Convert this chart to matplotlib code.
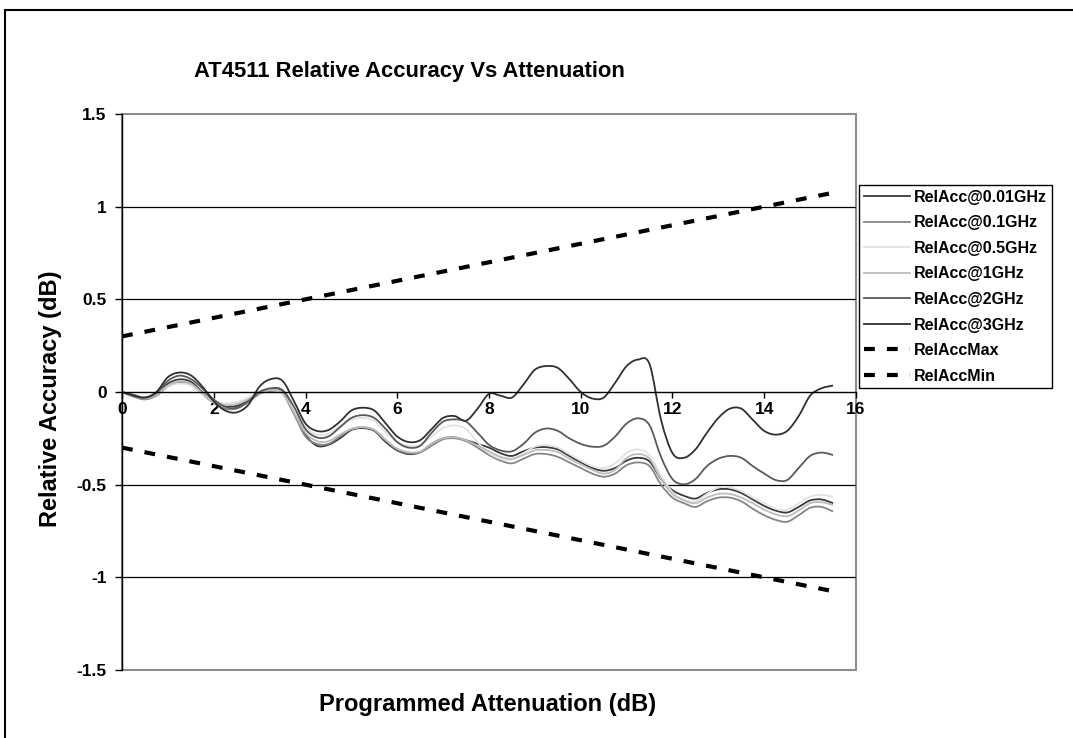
import matplotlib
matplotlib.use('Agg')
import matplotlib.pyplot as plt
from matplotlib.patches import Rectangle, PathPatch
from matplotlib.path import Path
from matplotlib.lines import Line2D
import numpy as np

plt.rcParams['font.family'] = ['Liberation Sans', 'DejaVu Sans']
plt.rcParams['font.weight'] = 'bold'

# Аттенюация, шаг 0.25 дБ
atten = np.arange(0, 15.5001, 0.25)

rel_001 = [0, -0.02, -0.035, -0.01, 0.045, 0.068, 0.055, 0.0, -0.05, -0.075, -0.075, -0.045,
           0.0, 0.018, 0.005, -0.11, -0.23, -0.29, -0.285, -0.25, -0.205, -0.195, -0.21, -0.27,
           -0.315, -0.335, -0.325, -0.28, -0.25, -0.245, -0.26, -0.28, -0.3, -0.33, -0.345, -0.32,
           -0.3, -0.298, -0.31, -0.345, -0.38, -0.41, -0.425, -0.41, -0.37, -0.355, -0.375, -0.47,
           -0.53, -0.56, -0.575, -0.545, -0.525, -0.525, -0.545, -0.58, -0.615, -0.64, -0.65, -0.62,
           -0.585, -0.58, -0.6]
rel_01 = [0, -0.025, -0.04, -0.02, 0.03, 0.05, 0.04, -0.01, -0.06, -0.09, -0.09, -0.055,
          -0.01, 0.005, -0.01, -0.12, -0.24, -0.28, -0.28, -0.24, -0.2, -0.19, -0.205, -0.26,
          -0.31, -0.33, -0.325, -0.29, -0.255, -0.25, -0.265, -0.3, -0.34, -0.37, -0.385, -0.36,
          -0.335, -0.335, -0.35, -0.38, -0.41, -0.44, -0.457, -0.44, -0.395, -0.38, -0.4, -0.5,
          -0.57, -0.6, -0.62, -0.59, -0.57, -0.57, -0.59, -0.63, -0.665, -0.69, -0.7, -0.665,
          -0.625, -0.62, -0.645]
rel_05 = [0, -0.02, -0.03, -0.01, 0.03, 0.045, 0.035, -0.01, -0.05, -0.06, -0.055, -0.03,
          0.0, 0.01, -0.01, -0.1, -0.19, -0.23, -0.225, -0.185, -0.15, -0.14, -0.155, -0.22,
          -0.27, -0.29, -0.285, -0.24, -0.195, -0.18, -0.2, -0.27, -0.33, -0.36, -0.365, -0.33,
          -0.295, -0.286, -0.3, -0.335, -0.37, -0.4, -0.41, -0.385, -0.33, -0.31, -0.34, -0.45,
          -0.54, -0.58, -0.59, -0.55, -0.515, -0.515, -0.535, -0.57, -0.6, -0.63, -0.635, -0.6,
          -0.565, -0.555, -0.565]
rel_1 = [0, -0.02, -0.035, -0.015, 0.035, 0.058, 0.045, -0.005, -0.055, -0.07, -0.065, -0.04,
         -0.005, 0.01, -0.005, -0.11, -0.22, -0.265, -0.265, -0.23, -0.2, -0.19, -0.205, -0.26,
         -0.305, -0.325, -0.32, -0.28, -0.25, -0.245, -0.26, -0.29, -0.32, -0.35, -0.36, -0.34,
         -0.315, -0.313, -0.325, -0.36, -0.39, -0.42, -0.44, -0.42, -0.355, -0.335, -0.36, -0.47,
         -0.55, -0.585, -0.6, -0.57, -0.55, -0.55, -0.57, -0.6, -0.635, -0.66, -0.67, -0.64,
         -0.6, -0.595, -0.61]
rel_2 = [0, -0.015, -0.03, -0.005, 0.06, 0.088, 0.07, 0.02, -0.04, -0.08, -0.085, -0.05,
         0.0, 0.02, 0.01, -0.08, -0.2, -0.245, -0.24, -0.19, -0.14, -0.125, -0.14, -0.2,
         -0.27, -0.3, -0.29, -0.22, -0.16, -0.148, -0.16, -0.22, -0.285, -0.315, -0.32, -0.28,
         -0.22, -0.197, -0.21, -0.25, -0.28, -0.295, -0.29, -0.24, -0.17, -0.142, -0.18, -0.35,
         -0.47, -0.498, -0.47, -0.4, -0.36, -0.345, -0.355, -0.4, -0.44, -0.475, -0.475, -0.41,
         -0.345, -0.327, -0.34]
rel_3 = [0, -0.02, -0.03, 0.0, 0.08, 0.105, 0.09, 0.03, -0.05, -0.1, -0.11, -0.07,
         0.03, 0.07, 0.06, -0.05, -0.17, -0.21, -0.205, -0.16, -0.1, -0.085, -0.1, -0.17,
         -0.24, -0.27, -0.26, -0.2, -0.14, -0.13, -0.155, -0.09, -0.01, -0.02, -0.03, 0.04,
         0.12, 0.14, 0.13, 0.07, 0.0, -0.035, -0.03, 0.05, 0.14, 0.175, 0.15, -0.15,
         -0.33, -0.355, -0.31, -0.22, -0.14, -0.09, -0.09, -0.15, -0.21, -0.23, -0.21, -0.13,
         -0.02, 0.02, 0.035]

# Границы допуска
lim_x = [0, 15.5]
lim_max = [0.3, 1.075]
lim_min = [-0.3, -1.075]

labels = ['RelAcc@0.01GHz', 'RelAcc@0.1GHz', 'RelAcc@0.5GHz', 'RelAcc@1GHz', 'RelAcc@2GHz', 'RelAcc@3GHz']
values = [rel_001, rel_01, rel_05, rel_1, rel_2, rel_3]
colors = ['#3a3a3a', '#858585', '#e2e2e2', '#bdbdbd', '#5a5a5a', '#303030']


# Сглаженная линия как в Excel (кривые Безье через точки)
def smooth_path(x, y):
    p = np.column_stack([x, y]).astype(float)
    pp = np.vstack([p[0], p, p[-1]])
    verts = [p[0]]
    codes = [Path.MOVETO]
    for i in range(len(p) - 1):
        c1 = pp[i + 1] + (pp[i + 2] - pp[i]) / 6
        c2 = pp[i + 2] - (pp[i + 3] - pp[i + 1]) / 6
        verts += [c1, c2, pp[i + 2]]
        codes += [Path.CURVE4] * 3
    return Path(verts, codes)


fig = plt.figure(figsize=(10.73, 7.38), dpi=100)
ax = fig.add_axes([122 / 1073, 1 - 670 / 738, 734 / 1073, 556 / 738])

handles = []
for lab, vals, col in zip(labels, values, colors):
    ax.add_patch(PathPatch(smooth_path(atten, vals), fill=False, edgecolor=col, lw=1.3, zorder=2))
    handles.append(Line2D([], [], color=col, lw=1.3, label=lab))

for lab, vals in [('RelAccMax', lim_max), ('RelAccMin', lim_min)]:
    ln, = ax.plot(lim_x, vals, color='black', lw=3, dashes=(2.6, 2.9), dash_capstyle='butt', label=lab)
    handles.append(ln)

ax.set_xlim(0, 16)
ax.set_ylim(-1.5, 1.5)
ax.set_xticks(np.arange(0, 17, 2))
ax.set_yticks([-1.5, -1, -0.5, 0, 0.5, 1, 1.5])
ax.set_yticklabels(['-1.5', '-1', '-0.5', '0', '0.5', '1', '1.5'])

# Сетка
for yv in [-1, -0.5, 0.5, 1]:
    ax.axhline(yv, color='black', lw=0.9, zorder=0.5)

ax.patch.set_edgecolor('#8c8c8c')
ax.patch.set_linewidth(1.5)
for s in ['top', 'right']:
    ax.spines[s].set_visible(False)
ax.spines['left'].set_color('black')
ax.spines['bottom'].set_position(('data', 0))
ax.spines['bottom'].set_color('black')
ax.spines['bottom'].set_linewidth(1.0)
ax.spines['left'].set_linewidth(1.0)
ax.tick_params(axis='x', direction='out', length=4, width=1, labelsize=12.5, pad=3)
ax.tick_params(axis='y', direction='out', length=5, width=1, labelsize=12.5, pad=6)
for t in ax.get_xticklabels() + ax.get_yticklabels():
    t.set_fontweight('bold')

fig.text(409 / 1073, 1 - 71 / 738, 'AT4511 Relative Accuracy Vs Attenuation',
         ha='center', va='center', fontsize=15.8, fontweight='bold')
fig.text(488 / 1073, 1 - 705 / 738, 'Programmed Attenuation (dB)',
         ha='center', va='center', fontsize=17, fontweight='bold')
fig.text(51 / 1073, 1 - 399 / 738, 'Relative Accuracy (dB)',
         ha='center', va='center', rotation=90, fontsize=17, fontweight='bold')

leg = fig.legend(handles=handles, loc='upper left', bbox_to_anchor=(859 / 1073, 1 - 185 / 738),
                 fontsize=11.5, frameon=True, fancybox=False, framealpha=1,
                 edgecolor='black', handlelength=2.9, handletextpad=0.25,
                 labelspacing=0.66, borderpad=0.3, borderaxespad=0)
leg.get_frame().set_linewidth(1.0)
for t in leg.get_texts():
    t.set_fontweight('bold')

# Рамка всей диаграммы
fig.add_artist(Rectangle((4.5 / 1073, -0.1), 1.2, 1 - 10 / 738 + 0.1,
                         transform=fig.transFigure, fill=False, edgecolor='black', lw=1.5))

plt.savefig('out.png', dpi=100)
